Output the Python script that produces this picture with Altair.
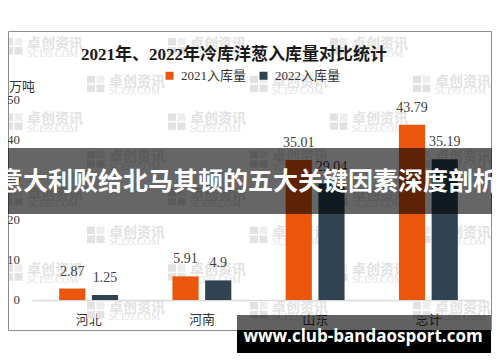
import altair as alt
import pandas as pd

# ---------------- data ----------------
regions = ["河北", "河南", "山东", "总计"]
series_names = ["2021入库量", "2022入库量"]
values_2021 = [2.87, 5.91, 35.01, 43.79]
values_2022 = [1.25, 4.9, 29.04, 35.19]
y_ticks = [0, 10, 20, 30, 40, 50]
title_text = "2021年、2022年冷库洋葱入库量对比统计"
unit_text = "万吨"
banner_text = "意大利败给北马其顿的五大关键因素深度剖析"
site_text = "www.club-bandaosport.com"
wm_cn = "卓创资讯"
wm_en = "SCI99.COM"

ORANGE = "#EA560B"
DARK = "#2F4353"
WM = "#e2e2e2"
SERIF_CJK = "Liberation Serif, Noto Sans CJK SC"

rows = []
for s, vals in zip(series_names, [values_2021, values_2022]):
    for r, v in zip(regions, vals):
        rows.append({"region": r, "series": s, "value": v, "label": str(v)})
df = pd.DataFrame(rows)
ticks_df = pd.DataFrame({"tick": y_ticks, "tlabel": [str(t) for t in y_ticks]})

W, H = 484, 346

x_scale = alt.Scale(domain=regions, range=[24, 477], paddingInner=0.48, paddingOuter=0.24)
y_scale = alt.Scale(domain=[0, 50], range=[292, 92])
xo_scale = alt.Scale(domain=series_names, paddingInner=0.2, paddingOuter=0)

x_axis = alt.Axis(title=None, orient="bottom", offset=-54, labelAngle=0, ticks=False,
                  domainColor="#d9d9d9", domainWidth=1.5, grid=False,
                  labelFont="Noto Sans CJK SC", labelFontSize=13, labelColor="#333333",
                  labelPadding=13)

bars = alt.Chart(df).mark_bar().encode(
    x=alt.X("region:N", scale=x_scale, sort=regions, axis=x_axis),
    xOffset=alt.XOffset("series:N", scale=xo_scale),
    y=alt.Y("value:Q", scale=y_scale, axis=None),
    color=alt.Color("series:N", scale=alt.Scale(domain=series_names, range=[ORANGE, DARK]),
                    legend=alt.Legend(title=None, orient="none", legendX=155, legendY=61,
                                      direction="horizontal", symbolType="square",
                                      symbolSize=64, symbolStrokeWidth=0,
                                      labelFont=SERIF_CJK, labelFontSize=13,
                                      labelColor="#333333", columnPadding=10, labelOffset=5)),
)

labels = alt.Chart(df).mark_text(dy=-13, baseline="alphabetic", font="Liberation Serif",
                                 fontSize=14, color="#404040").encode(
    x=alt.X("region:N", scale=x_scale, sort=regions, axis=x_axis),
    xOffset=alt.XOffset("series:N", scale=xo_scale),
    y=alt.Y("value:Q", scale=y_scale, axis=None),
    text="label:N",
)

# y tick labels placed through the y scale
y_labels = alt.Chart(ticks_df).mark_text(align="right", baseline="middle",
                                         font="Liberation Serif", fontSize=13,
                                         color="#404040").encode(
    x=alt.value(12),
    y=alt.Y("tick:Q", scale=y_scale, axis=None),
    text="tlabel:N",
)

# ---------------- watermarks (decoration) ----------------
wm_text_rows = []
wm_rect_rows = []
for i in range(8):
    top = 38 + 37.7 * i - 8
    xs = [5, 168, 330] if i % 2 == 0 else [87, 250, 413]
    for xp in xs:
        x0 = xp - 8
        wm_text_rows.append({"px": x0 + 22, "py": top + 6, "t": wm_cn, "k": "cn"})
        wm_text_rows.append({"px": x0 + 22, "py": top + 15.5, "t": wm_en, "k": "en"})
        for (dx, dy, c) in [(0, 0, WM), (9.5, 0, "#eeeeee"), (0, 9, WM), (9.5, 9, WM)]:
            wm_rect_rows.append({"x": x0 + dx, "x2": x0 + dx + 8, "y": top + dy,
                                 "y2": top + dy + 7.5, "c": c})
wm_text = pd.DataFrame(wm_text_rows)
wm_rect = pd.DataFrame(wm_rect_rows)

wm_icons = alt.Chart(wm_rect).mark_rect().encode(
    x=alt.X("x:Q", scale=None), x2="x2:Q",
    y=alt.Y("y:Q", scale=None), y2="y2:Q",
    color=alt.Color("c:N", scale=None),
)
wm_cn_layer = alt.Chart(wm_text[wm_text.k == "cn"]).mark_text(
    align="left", baseline="middle", font="Noto Sans CJK SC", fontSize=14,
    fontWeight="bold", color=WM).encode(
    x=alt.X("px:Q", scale=None), y=alt.Y("py:Q", scale=None), text="t:N")
wm_en_layer = alt.Chart(wm_text[wm_text.k == "en"]).mark_text(
    align="left", baseline="middle", font="Liberation Serif", fontSize=10,
    color=WM).encode(
    x=alt.X("px:Q", scale=None), y=alt.Y("py:Q", scale=None), text="t:N")

one = pd.DataFrame({"a": [0]})

frame = alt.Chart(one).mark_rect(filled=False, stroke="#8c8c8c", strokeWidth=1).encode(
    x=alt.value(0.5), x2=alt.value(483.5), y=alt.value(23.5), y2=alt.value(322.5))

title = alt.Chart(pd.DataFrame({"t": [title_text]})).mark_text(
    align="center", baseline="middle", font=SERIF_CJK, fontSize=17, fontWeight="bold",
    color="#1a1a1a").encode(x=alt.value(226), y=alt.value(47), text="t:N")

unit = alt.Chart(pd.DataFrame({"t": [unit_text]})).mark_text(
    align="left", baseline="middle", font="Noto Sans CJK SC", fontSize=13,
    color="#333333").encode(x=alt.value(1), y=alt.value(79), text="t:N")

banner_bg = alt.Chart(one).mark_rect(color="black", opacity=0.6).encode(
    x=alt.value(0), x2=alt.value(484), y=alt.value(140), y2=alt.value(206))
banner_tx = alt.Chart(pd.DataFrame({"t": [banner_text]})).mark_text(
    align="center", baseline="middle", font="Noto Sans CJK SC", fontSize=25,
    fontWeight="bold", color="white").encode(x=alt.value(240), y=alt.value(174), text="t:N")

site_bg1 = alt.Chart(one).mark_rect(color="black", opacity=0.62).encode(
    x=alt.value(229), x2=alt.value(483), y=alt.value(307), y2=alt.value(322))
site_bg2 = alt.Chart(one).mark_rect(color="black", opacity=1).encode(
    x=alt.value(229), x2=alt.value(483), y=alt.value(322), y2=alt.value(345))
site_tx = alt.Chart(pd.DataFrame({"t": [site_text]})).mark_text(
    align="center", baseline="middle", font="Open Sans", fontSize=17,
    fontWeight="bold", color="white").encode(x=alt.value(355), y=alt.value(329), text="t:N")

chart = alt.layer(
    wm_icons, wm_cn_layer, wm_en_layer, frame, bars, labels, y_labels, unit, title,
    banner_bg, banner_tx, site_bg1, site_bg2, site_tx,
).properties(
    width=W, height=H, autosize=alt.AutoSizeParams(type="none"), padding=0,
    background="white",
).configure_view(stroke=None)

chart.save("out.html", embed_options={"renderer": "svg", "actions": False})
